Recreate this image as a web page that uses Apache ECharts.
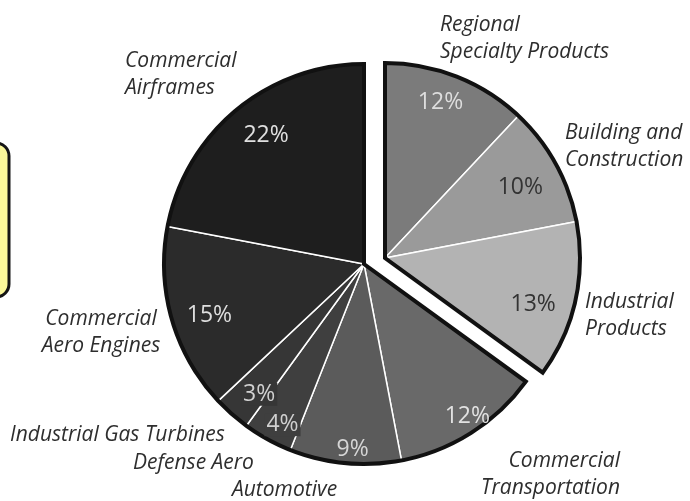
<!DOCTYPE html>
<html>
<head>
<meta charset="utf-8">
<style>
html, body { margin: 0; padding: 0; background: #fff; }
#chart-panel { width: 690px; height: 501px; }
</style>
<script src="https://cdn.jsdelivr.net/npm/echarts@6/dist/echarts.min.js"></script>
</head>
<body>
<div id="chart-panel"></div>
<script type="text/javascript">
// segments clockwise from 12 o'clock
var segments = ['Regional\nSpecialty Products', 'Building and\nConstruction', 'Industrial\nProducts',
    'Commercial\nTransportation', 'Automotive', 'Defense Aero', 'Industrial Gas Turbines',
    'Commercial\nAero Engines', 'Commercial\nAirframes'];
var shares = [12, 10, 13, 12, 9, 4, 3, 15, 22];
// the first three are pulled out of the pie as one block
var pulledOut = [true, true, true, false, false, false, false, false, false];

var shades = ['#7b7b7b', '#9a9a9a', '#b3b3b3', '#696969', '#5b5b5b', '#3f3f3f', '#363636', '#2b2b2b', '#1e1e1e'];
var pctColors = ['#dedede', '#333333', '#333333', '#e2e2e2', '#d6d6d6', '#d0d0d0', '#d0d0d0', '#dedede', '#e0e0e0'];

var mainR = 200, blockR = 195;
var mainCenter = [364, 264];
var blockCenter = [385, 258];
var none = 'rgba(0,0,0,0)';

// where the name labels sit [x, y, align]
var nameSpots = [[440, 39, 'left'], [565, 147, 'left'], [585, 316, 'left'], [620, 475, 'right'],
    [232, 490, 'left'], [133, 463, 'left'], [10, 435, 'left'], [101, 333, 'center'], [125, 75, 'left']];
// small nudges for the percent labels
var pctNudge = [[-3, -8], [-4, 6], [-7, 12], [16, 15], [4, 23], [-3, 18], [3, 8], [2, 6], [6, -3]];

var myChart = echarts.init(document.getElementById('chart-panel'));

function fills(center, R, block) {
    return {
        type: 'pie', z: 2, silent: true, animation: false,
        center: center, radius: [0, R], startAngle: 90,
        avoidLabelOverlap: false,
        label: { show: false }, labelLine: { show: false },
        data: shares.map(function (v, i) {
            var mine = pulledOut[i] === block;
            return {
                value: v, name: segments[i],
                itemStyle: { color: mine ? shades[i] : none, borderColor: '#fff', borderWidth: mine ? 1.5 : 0 },
                label: mine ? {
                    show: true, position: 'outside',
                    color: '#2e2e2e', fontSize: 21, fontStyle: 'italic',
                    fontFamily: 'Open Sans', lineHeight: 27
                } : { show: false }
            };
        }),
        labelLayout: function (p) {
            var s = nameSpots[p.dataIndex];
            return { x: s[0], y: s[1], align: s[2], verticalAlign: 'middle' };
        }
    };
}

function outline(center, R, block) {
    var inBlock = 0, rest = 0;
    shares.forEach(function (v, i) { if (pulledOut[i]) inBlock += v; else rest += v; });
    return {
        type: 'pie', z: 3, silent: true, animation: false,
        center: center, radius: [0, R], startAngle: 90,
        label: { show: false }, labelLine: { show: false },
        itemStyle: { borderJoin: 'miter' },
        data: [
            { value: inBlock, itemStyle: { color: none, borderColor: block ? '#111' : none, borderWidth: block ? 4 : 0 } },
            { value: rest, itemStyle: { color: none, borderColor: block ? none : '#111', borderWidth: block ? 0 : 4 } }
        ]
    };
}

function percents(center, R, block) {
    return {
        type: 'pie', z: 4, silent: true, animation: false,
        center: center, radius: [R * 0.6, R], startAngle: 90,
        avoidLabelOverlap: false,
        labelLine: { show: false },
        data: shares.map(function (v, i) {
            var mine = pulledOut[i] === block;
            var small = v < 5;
            return {
                value: v, name: segments[i],
                itemStyle: { color: none, borderWidth: 0 },
                label: mine ? {
                    show: true, position: 'inside', formatter: '{c}%',
                    color: pctColors[i], fontSize: 23, fontFamily: 'Open Sans',
                    backgroundColor: small ? shades[i] : 'transparent',
                    padding: small ? [0, 2] : 0
                } : { show: false }
            };
        }),
        labelLayout: function (p) {
            var n = pctNudge[p.dataIndex];
            return { dx: n[0], dy: n[1] };
        }
    };
}

var option = {
    backgroundColor: '#fff',
    animation: false,
    graphic: [{
        type: 'rect', z: 1,
        shape: { x: -60, y: 143, width: 69, height: 154, r: 13 },
        style: { fill: '#fbf89a', stroke: '#151515', lineWidth: 3 }
    }],
    series: [
        fills(mainCenter, mainR, false), fills(blockCenter, blockR, true),
        outline(mainCenter, mainR, false), outline(blockCenter, blockR, true),
        percents(mainCenter, mainR, false), percents(blockCenter, blockR, true)
    ]
};

myChart.setOption(option);
</script>
</body>
</html>
